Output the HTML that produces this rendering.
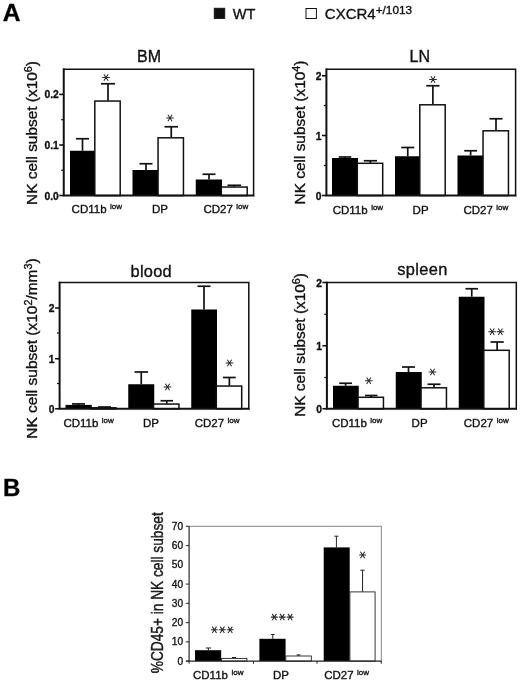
<!DOCTYPE html>
<html><head><meta charset="utf-8"><title>Figure</title>
<style>html,body{margin:0;padding:0;background:#fff;}svg{display:block;will-change:transform;}text{font-family:"Liberation Sans",sans-serif;stroke:#111;stroke-width:0.35px;}</style></head>
<body>
<svg width="520" height="683" viewBox="0 0 520 683" font-family='"Liberation Sans", sans-serif'>
<rect width="520" height="683" fill="#fff"/>
<text transform="translate(2.8,21.3) scale(1.05,1)" font-size="23.4" font-weight="bold" fill="#000">A</text>
<text x="3.00" y="496.30" font-size="24" text-anchor="start" font-weight="bold" fill="#000" >B</text>
<rect x="214.20" y="8.20" width="10.60" height="10.40" fill="#111" stroke="#111" stroke-width="0.8"/>
<text x="232.80" y="19.20" font-size="14.6" text-anchor="start" font-weight="normal" fill="#111" >WT</text>
<rect x="306.00" y="8.50" width="10.40" height="10.00" fill="#fff" stroke="#111" stroke-width="1.0"/>
<text x="324.80" y="19.20" font-size="15" text-anchor="start" font-weight="normal" fill="#111" >CXCR4<tspan dy="-5" font-size="11.8">+/1013</tspan></text>
<line x1="82.50" y1="138.75" x2="82.50" y2="150.75" stroke="#111" stroke-width="1.7"/>
<line x1="76.00" y1="138.75" x2="89.00" y2="138.75" stroke="#111" stroke-width="1.7"/>
<line x1="108.00" y1="83.75" x2="108.00" y2="100.75" stroke="#111" stroke-width="1.7"/>
<line x1="101.00" y1="83.75" x2="115.00" y2="83.75" stroke="#111" stroke-width="1.7"/>
<line x1="146.00" y1="163.75" x2="146.00" y2="170.00" stroke="#111" stroke-width="1.7"/>
<line x1="139.50" y1="163.75" x2="152.50" y2="163.75" stroke="#111" stroke-width="1.7"/>
<line x1="171.25" y1="126.75" x2="171.25" y2="137.50" stroke="#111" stroke-width="1.7"/>
<line x1="164.50" y1="126.75" x2="178.00" y2="126.75" stroke="#111" stroke-width="1.7"/>
<line x1="209.00" y1="174.25" x2="209.00" y2="179.50" stroke="#111" stroke-width="1.7"/>
<line x1="202.50" y1="174.25" x2="215.50" y2="174.25" stroke="#111" stroke-width="1.7"/>
<line x1="234.25" y1="185.30" x2="234.25" y2="186.75" stroke="#111" stroke-width="1.7"/>
<line x1="227.50" y1="185.30" x2="241.00" y2="185.30" stroke="#111" stroke-width="1.7"/>
<rect x="70.00" y="150.75" width="25.50" height="44.85" fill="#000"/>
<rect x="132.50" y="170.00" width="26.25" height="25.60" fill="#000"/>
<rect x="195.75" y="179.50" width="26.25" height="16.10" fill="#000"/>
<rect x="94.80" y="101.05" width="25.40" height="94.55" fill="#fff" stroke="#111" stroke-width="1.5"/>
<rect x="158.05" y="137.80" width="25.40" height="57.80" fill="#fff" stroke="#111" stroke-width="1.5"/>
<rect x="221.30" y="187.05" width="25.90" height="8.55" fill="#fff" stroke="#111" stroke-width="1.5"/>
<path d="M63.75 69.30H253.60V195.60" fill="none" stroke="#111" stroke-width="1.5" stroke-linecap="square"/>
<path d="M63.75 68.60V195.60H254.30" fill="none" stroke="#111" stroke-width="2.0"/>
<line x1="59.25" y1="94.40" x2="63.75" y2="94.40" stroke="#111" stroke-width="1.6"/>
<text x="58.75" y="98.40" font-size="10.3" text-anchor="end" font-weight="bold" fill="#111" >0.2</text>
<line x1="59.25" y1="145.00" x2="63.75" y2="145.00" stroke="#111" stroke-width="1.6"/>
<text x="58.75" y="149.00" font-size="10.3" text-anchor="end" font-weight="bold" fill="#111" >0.1</text>
<line x1="59.25" y1="195.50" x2="63.75" y2="195.50" stroke="#111" stroke-width="1.6"/>
<text x="58.75" y="199.50" font-size="10.3" text-anchor="end" font-weight="bold" fill="#111" >0.0</text>
<line x1="61.15" y1="119.70" x2="63.75" y2="119.70" stroke="#111" stroke-width="1.2"/>
<line x1="61.15" y1="170.20" x2="63.75" y2="170.20" stroke="#111" stroke-width="1.2"/>
<text x="149.00" y="61.50" font-size="16" text-anchor="middle" font-weight="normal" fill="#111" letter-spacing="0">BM</text>
<text transform="translate(36.90,133.00) rotate(-90) scale(1.077,1)" font-size="14.3" text-anchor="middle" fill="#111">NK cell subset (x10<tspan dy="-4.8" font-size="10">6</tspan><tspan dy="4.8">)</tspan></text>
<text x="71.60" y="212.70" font-size="11.5" text-anchor="start" font-weight="normal" fill="#111" >CD11b<tspan dx="3.5" dy="-3.5" font-size="8">low</tspan></text>
<text x="152.00" y="212.70" font-size="11.5" text-anchor="start" font-weight="normal" fill="#111" >DP</text>
<text x="203.40" y="212.70" font-size="11.5" text-anchor="start" font-weight="normal" fill="#111" >CD27<tspan dx="3.5" dy="-3.5" font-size="8">low</tspan></text>
<path d="M102.20 77.50H109.80M103.88 74.30L108.12 80.70M108.12 74.30L103.88 80.70" stroke="#2a2a2a" stroke-width="1.05" fill="none"/>
<path d="M166.20 118.00H173.80M167.88 114.80L172.12 121.20M172.12 114.80L167.88 121.20" stroke="#2a2a2a" stroke-width="1.05" fill="none"/>
<line x1="345.00" y1="157.00" x2="345.00" y2="158.00" stroke="#111" stroke-width="1.7"/>
<line x1="338.75" y1="157.00" x2="351.25" y2="157.00" stroke="#111" stroke-width="1.7"/>
<line x1="370.38" y1="160.75" x2="370.38" y2="163.00" stroke="#111" stroke-width="1.7"/>
<line x1="363.75" y1="160.75" x2="377.00" y2="160.75" stroke="#111" stroke-width="1.7"/>
<line x1="407.75" y1="147.50" x2="407.75" y2="156.25" stroke="#111" stroke-width="1.7"/>
<line x1="401.25" y1="147.50" x2="414.25" y2="147.50" stroke="#111" stroke-width="1.7"/>
<line x1="432.88" y1="85.75" x2="432.88" y2="104.50" stroke="#111" stroke-width="1.7"/>
<line x1="426.25" y1="85.75" x2="439.50" y2="85.75" stroke="#111" stroke-width="1.7"/>
<line x1="470.62" y1="150.75" x2="470.62" y2="155.50" stroke="#111" stroke-width="1.7"/>
<line x1="464.25" y1="150.75" x2="477.00" y2="150.75" stroke="#111" stroke-width="1.7"/>
<line x1="496.00" y1="118.75" x2="496.00" y2="130.50" stroke="#111" stroke-width="1.7"/>
<line x1="489.50" y1="118.75" x2="502.50" y2="118.75" stroke="#111" stroke-width="1.7"/>
<rect x="332.00" y="158.00" width="26.00" height="37.50" fill="#000"/>
<rect x="395.00" y="156.25" width="25.50" height="39.25" fill="#000"/>
<rect x="457.50" y="155.50" width="26.25" height="40.00" fill="#000"/>
<rect x="357.30" y="163.30" width="25.40" height="32.20" fill="#fff" stroke="#111" stroke-width="1.5"/>
<rect x="419.80" y="104.80" width="25.40" height="90.70" fill="#fff" stroke="#111" stroke-width="1.5"/>
<rect x="483.05" y="130.80" width="25.40" height="64.70" fill="#fff" stroke="#111" stroke-width="1.5"/>
<path d="M326.40 69.30H515.60V195.50" fill="none" stroke="#111" stroke-width="1.5" stroke-linecap="square"/>
<path d="M326.40 68.60V195.50H516.30" fill="none" stroke="#111" stroke-width="2.0"/>
<line x1="321.90" y1="75.75" x2="326.40" y2="75.75" stroke="#111" stroke-width="1.6"/>
<text x="321.40" y="79.75" font-size="10.3" text-anchor="end" font-weight="bold" fill="#111" >2</text>
<line x1="321.90" y1="135.50" x2="326.40" y2="135.50" stroke="#111" stroke-width="1.6"/>
<text x="321.40" y="139.50" font-size="10.3" text-anchor="end" font-weight="bold" fill="#111" >1</text>
<line x1="321.90" y1="195.50" x2="326.40" y2="195.50" stroke="#111" stroke-width="1.6"/>
<text x="321.40" y="199.50" font-size="10.3" text-anchor="end" font-weight="bold" fill="#111" >0</text>
<line x1="323.80" y1="105.50" x2="326.40" y2="105.50" stroke="#111" stroke-width="1.2"/>
<line x1="323.80" y1="165.50" x2="326.40" y2="165.50" stroke="#111" stroke-width="1.2"/>
<text x="419.75" y="61.50" font-size="16" text-anchor="middle" font-weight="normal" fill="#111" letter-spacing="0">LN</text>
<text transform="translate(305.00,132.50) rotate(-90) scale(1.077,1)" font-size="14.3" text-anchor="middle" fill="#111">NK cell subset (x10<tspan dy="-4.8" font-size="10">4</tspan><tspan dy="4.8">)</tspan></text>
<text x="332.70" y="213.50" font-size="11.5" text-anchor="start" font-weight="normal" fill="#111" >CD11b<tspan dx="3.5" dy="-3.5" font-size="8">low</tspan></text>
<text x="412.60" y="213.50" font-size="11.5" text-anchor="start" font-weight="normal" fill="#111" >DP</text>
<text x="463.40" y="213.50" font-size="11.5" text-anchor="start" font-weight="normal" fill="#111" >CD27<tspan dx="3.5" dy="-3.5" font-size="8">low</tspan></text>
<path d="M429.20 79.50H436.80M430.88 76.30L435.12 82.70M435.12 76.30L430.88 82.70" stroke="#2a2a2a" stroke-width="1.05" fill="none"/>
<line x1="78.50" y1="403.90" x2="78.50" y2="404.90" stroke="#111" stroke-width="1.7"/>
<line x1="72.00" y1="403.90" x2="85.00" y2="403.90" stroke="#111" stroke-width="1.7"/>
<line x1="104.50" y1="407.00" x2="104.50" y2="407.50" stroke="#111" stroke-width="1.7"/>
<line x1="98.00" y1="407.00" x2="111.00" y2="407.00" stroke="#111" stroke-width="1.7"/>
<line x1="141.25" y1="372.00" x2="141.25" y2="384.25" stroke="#111" stroke-width="1.7"/>
<line x1="134.50" y1="372.00" x2="148.00" y2="372.00" stroke="#111" stroke-width="1.7"/>
<line x1="166.75" y1="400.75" x2="166.75" y2="403.75" stroke="#111" stroke-width="1.7"/>
<line x1="160.50" y1="400.75" x2="173.00" y2="400.75" stroke="#111" stroke-width="1.7"/>
<line x1="204.00" y1="286.25" x2="204.00" y2="309.50" stroke="#111" stroke-width="1.7"/>
<line x1="197.50" y1="286.25" x2="210.50" y2="286.25" stroke="#111" stroke-width="1.7"/>
<line x1="229.38" y1="377.50" x2="229.38" y2="385.75" stroke="#111" stroke-width="1.7"/>
<line x1="223.00" y1="377.50" x2="235.75" y2="377.50" stroke="#111" stroke-width="1.7"/>
<rect x="65.50" y="404.90" width="26.25" height="3.85" fill="#000"/>
<rect x="128.25" y="384.25" width="26.00" height="24.50" fill="#000"/>
<rect x="191.25" y="309.50" width="25.75" height="99.25" fill="#000"/>
<rect x="91.05" y="407.80" width="24.90" height="0.95" fill="#fff" stroke="#111" stroke-width="1.5"/>
<rect x="153.55" y="404.05" width="25.40" height="4.70" fill="#fff" stroke="#111" stroke-width="1.5"/>
<rect x="216.30" y="386.05" width="25.40" height="22.70" fill="#fff" stroke="#111" stroke-width="1.5"/>
<path d="M59.60 282.50H248.80V408.75" fill="none" stroke="#111" stroke-width="1.5" stroke-linecap="square"/>
<path d="M59.60 281.80V408.75H249.50" fill="none" stroke="#111" stroke-width="2.0"/>
<line x1="55.10" y1="308.00" x2="59.60" y2="308.00" stroke="#111" stroke-width="1.6"/>
<text x="54.60" y="312.00" font-size="10.3" text-anchor="end" font-weight="bold" fill="#111" >2</text>
<line x1="55.10" y1="358.75" x2="59.60" y2="358.75" stroke="#111" stroke-width="1.6"/>
<text x="54.60" y="362.75" font-size="10.3" text-anchor="end" font-weight="bold" fill="#111" >1</text>
<line x1="55.10" y1="408.75" x2="59.60" y2="408.75" stroke="#111" stroke-width="1.6"/>
<text x="54.60" y="412.75" font-size="10.3" text-anchor="end" font-weight="bold" fill="#111" >0</text>
<line x1="57.00" y1="333.00" x2="59.60" y2="333.00" stroke="#111" stroke-width="1.2"/>
<line x1="57.00" y1="383.50" x2="59.60" y2="383.50" stroke="#111" stroke-width="1.2"/>
<text x="151.30" y="276.60" font-size="16.4" text-anchor="middle" font-weight="normal" fill="#111" letter-spacing="0.25">blood</text>
<text transform="translate(36.90,348.50) rotate(-90) scale(1.082,1)" font-size="14.3" text-anchor="middle" fill="#111">NK cell subset (x10<tspan dy="-4.8" font-size="10">2</tspan><tspan dy="4.8">/mm</tspan><tspan dy="-4.8" font-size="10">3</tspan><tspan dy="4.8">)</tspan></text>
<text x="63.40" y="426.70" font-size="11.5" text-anchor="start" font-weight="normal" fill="#111" >CD11b<tspan dx="3.5" dy="-3.5" font-size="8">low</tspan></text>
<text x="142.90" y="426.70" font-size="11.5" text-anchor="start" font-weight="normal" fill="#111" >DP</text>
<text x="194.70" y="426.70" font-size="11.5" text-anchor="start" font-weight="normal" fill="#111" >CD27<tspan dx="3.5" dy="-3.5" font-size="8">low</tspan></text>
<path d="M163.70 387.00H171.30M165.38 383.80L169.62 390.20M169.62 383.80L165.38 390.20" stroke="#2a2a2a" stroke-width="1.05" fill="none"/>
<path d="M225.70 363.00H233.30M227.38 359.80L231.62 366.20M231.62 359.80L227.38 366.20" stroke="#2a2a2a" stroke-width="1.05" fill="none"/>
<line x1="345.62" y1="383.25" x2="345.62" y2="385.75" stroke="#111" stroke-width="1.7"/>
<line x1="339.25" y1="383.25" x2="352.00" y2="383.25" stroke="#111" stroke-width="1.7"/>
<line x1="371.25" y1="395.50" x2="371.25" y2="397.00" stroke="#111" stroke-width="1.7"/>
<line x1="365.00" y1="395.50" x2="377.50" y2="395.50" stroke="#111" stroke-width="1.7"/>
<line x1="408.50" y1="367.00" x2="408.50" y2="372.00" stroke="#111" stroke-width="1.7"/>
<line x1="402.00" y1="367.00" x2="415.00" y2="367.00" stroke="#111" stroke-width="1.7"/>
<line x1="434.00" y1="384.25" x2="434.00" y2="387.50" stroke="#111" stroke-width="1.7"/>
<line x1="427.50" y1="384.25" x2="440.50" y2="384.25" stroke="#111" stroke-width="1.7"/>
<line x1="471.75" y1="288.75" x2="471.75" y2="296.75" stroke="#111" stroke-width="1.7"/>
<line x1="465.50" y1="288.75" x2="478.00" y2="288.75" stroke="#111" stroke-width="1.7"/>
<line x1="497.12" y1="342.00" x2="497.12" y2="350.00" stroke="#111" stroke-width="1.7"/>
<line x1="490.50" y1="342.00" x2="503.75" y2="342.00" stroke="#111" stroke-width="1.7"/>
<rect x="333.00" y="385.75" width="25.75" height="23.00" fill="#000"/>
<rect x="395.75" y="372.00" width="26.00" height="36.75" fill="#000"/>
<rect x="458.75" y="296.75" width="25.75" height="112.00" fill="#000"/>
<rect x="358.05" y="397.30" width="25.40" height="11.45" fill="#fff" stroke="#111" stroke-width="1.5"/>
<rect x="421.05" y="387.80" width="25.40" height="20.95" fill="#fff" stroke="#111" stroke-width="1.5"/>
<rect x="483.80" y="350.30" width="25.40" height="58.45" fill="#fff" stroke="#111" stroke-width="1.5"/>
<path d="M326.90 282.50H516.30V408.75" fill="none" stroke="#111" stroke-width="1.5" stroke-linecap="square"/>
<path d="M326.90 281.80V408.75H517.00" fill="none" stroke="#111" stroke-width="2.0"/>
<line x1="322.40" y1="282.50" x2="326.90" y2="282.50" stroke="#111" stroke-width="1.6"/>
<text x="321.90" y="286.50" font-size="10.3" text-anchor="end" font-weight="bold" fill="#111" >2</text>
<line x1="322.40" y1="345.75" x2="326.90" y2="345.75" stroke="#111" stroke-width="1.6"/>
<text x="321.90" y="349.75" font-size="10.3" text-anchor="end" font-weight="bold" fill="#111" >1</text>
<line x1="322.40" y1="408.75" x2="326.90" y2="408.75" stroke="#111" stroke-width="1.6"/>
<text x="321.90" y="412.75" font-size="10.3" text-anchor="end" font-weight="bold" fill="#111" >0</text>
<line x1="324.30" y1="314.25" x2="326.90" y2="314.25" stroke="#111" stroke-width="1.2"/>
<line x1="324.30" y1="377.50" x2="326.90" y2="377.50" stroke="#111" stroke-width="1.2"/>
<text x="422.50" y="275.20" font-size="16.4" text-anchor="middle" font-weight="normal" fill="#111" letter-spacing="0.35">spleen</text>
<text transform="translate(305.00,344.90) rotate(-90) scale(1.077,1)" font-size="14.3" text-anchor="middle" fill="#111">NK cell subset (x10<tspan dy="-4.8" font-size="10">6</tspan><tspan dy="4.8">)</tspan></text>
<text x="331.90" y="426.70" font-size="11.5" text-anchor="start" font-weight="normal" fill="#111" >CD11b<tspan dx="3.5" dy="-3.5" font-size="8">low</tspan></text>
<text x="411.60" y="426.70" font-size="11.5" text-anchor="start" font-weight="normal" fill="#111" >DP</text>
<text x="463.80" y="426.70" font-size="11.5" text-anchor="start" font-weight="normal" fill="#111" >CD27<tspan dx="3.5" dy="-3.5" font-size="8">low</tspan></text>
<path d="M364.95 380.75H372.55M366.63 377.55L370.87 383.95M370.87 377.55L366.63 383.95" stroke="#2a2a2a" stroke-width="1.05" fill="none"/>
<path d="M428.70 372.00H436.30M430.38 368.80L434.62 375.20M434.62 368.80L430.38 375.20" stroke="#2a2a2a" stroke-width="1.05" fill="none"/>
<path d="M488.35 331.75H495.95M490.03 328.55L494.27 334.95M494.27 328.55L490.03 334.95" stroke="#2a2a2a" stroke-width="1.05" fill="none"/>
<path d="M496.55 331.75H504.15M498.23 328.55L502.47 334.95M502.47 328.55L498.23 334.95" stroke="#2a2a2a" stroke-width="1.05" fill="none"/>
<line x1="189.10" y1="526.30" x2="381.30" y2="526.30" stroke="#777" stroke-width="0.9"/>
<line x1="381.30" y1="526.30" x2="381.30" y2="661.10" stroke="#777" stroke-width="0.9"/>
<line x1="208.40" y1="648.00" x2="208.40" y2="650.20" stroke="#222" stroke-width="1.0"/>
<line x1="205.80" y1="648.00" x2="211.00" y2="648.00" stroke="#222" stroke-width="1.0"/>
<line x1="234.00" y1="657.50" x2="234.00" y2="658.40" stroke="#222" stroke-width="1.0"/>
<line x1="232.00" y1="657.50" x2="236.00" y2="657.50" stroke="#222" stroke-width="1.0"/>
<line x1="272.80" y1="634.50" x2="272.80" y2="638.80" stroke="#222" stroke-width="1.0"/>
<line x1="270.90" y1="634.50" x2="274.70" y2="634.50" stroke="#222" stroke-width="1.0"/>
<line x1="298.50" y1="654.90" x2="298.50" y2="656.00" stroke="#222" stroke-width="1.0"/>
<line x1="296.50" y1="654.90" x2="300.50" y2="654.90" stroke="#222" stroke-width="1.0"/>
<line x1="336.40" y1="536.20" x2="336.40" y2="547.40" stroke="#222" stroke-width="1.0"/>
<line x1="334.40" y1="536.20" x2="338.40" y2="536.20" stroke="#222" stroke-width="1.0"/>
<line x1="362.55" y1="570.20" x2="362.55" y2="591.90" stroke="#222" stroke-width="1.0"/>
<line x1="360.40" y1="570.20" x2="364.70" y2="570.20" stroke="#222" stroke-width="1.0"/>
<rect x="195.00" y="650.20" width="26.20" height="10.90" fill="#000"/>
<rect x="221.40" y="658.40" width="25.50" height="2.70" fill="#fff" stroke="#222" stroke-width="0.9"/>
<rect x="259.40" y="638.80" width="26.20" height="22.30" fill="#000"/>
<rect x="285.80" y="656.00" width="25.50" height="5.10" fill="#fff" stroke="#222" stroke-width="0.9"/>
<rect x="323.70" y="547.40" width="26.00" height="113.70" fill="#000"/>
<rect x="349.90" y="591.90" width="25.20" height="69.20" fill="#fff" stroke="#222" stroke-width="0.9"/>
<line x1="189.10" y1="526.30" x2="189.10" y2="661.10" stroke="#333" stroke-width="1.25"/>
<line x1="185.90" y1="661.10" x2="381.30" y2="661.10" stroke="#222" stroke-width="1.3"/>
<line x1="185.90" y1="661.10" x2="189.10" y2="661.10" stroke="#333" stroke-width="1.1"/>
<text x="183.10" y="664.70" font-size="10.2" text-anchor="end" font-weight="normal" fill="#222" >0</text>
<line x1="185.90" y1="641.84" x2="189.10" y2="641.84" stroke="#333" stroke-width="1.1"/>
<text x="183.10" y="645.44" font-size="10.2" text-anchor="end" font-weight="normal" fill="#222" >10</text>
<line x1="185.90" y1="622.59" x2="189.10" y2="622.59" stroke="#333" stroke-width="1.1"/>
<text x="183.10" y="626.19" font-size="10.2" text-anchor="end" font-weight="normal" fill="#222" >20</text>
<line x1="185.90" y1="603.33" x2="189.10" y2="603.33" stroke="#333" stroke-width="1.1"/>
<text x="183.10" y="606.93" font-size="10.2" text-anchor="end" font-weight="normal" fill="#222" >30</text>
<line x1="185.90" y1="584.07" x2="189.10" y2="584.07" stroke="#333" stroke-width="1.1"/>
<text x="183.10" y="587.67" font-size="10.2" text-anchor="end" font-weight="normal" fill="#222" >40</text>
<text x="183.10" y="568.41" font-size="10.2" text-anchor="end" font-weight="normal" fill="#222" >50</text>
<line x1="185.90" y1="545.56" x2="189.10" y2="545.56" stroke="#333" stroke-width="1.1"/>
<text x="183.10" y="549.16" font-size="10.2" text-anchor="end" font-weight="normal" fill="#222" >60</text>
<line x1="185.90" y1="526.30" x2="189.10" y2="526.30" stroke="#333" stroke-width="1.1"/>
<text x="183.10" y="529.90" font-size="10.2" text-anchor="end" font-weight="normal" fill="#222" >70</text>
<line x1="189.10" y1="661.10" x2="189.10" y2="663.70" stroke="#222" stroke-width="1.0"/>
<line x1="253.50" y1="661.10" x2="253.50" y2="663.70" stroke="#222" stroke-width="1.0"/>
<line x1="317.00" y1="661.10" x2="317.00" y2="663.70" stroke="#222" stroke-width="1.0"/>
<line x1="381.30" y1="661.10" x2="381.30" y2="663.70" stroke="#222" stroke-width="1.0"/>
<text transform="translate(163.4,592.8) rotate(-90) scale(1,1.17)" font-size="13.7" text-anchor="middle" fill="#222">%CD45+ in NK cell subset</text>
<text x="193.00" y="679.20" font-size="11.5" text-anchor="start" font-weight="normal" fill="#111" >CD11b<tspan dx="3.5" dy="-4.2" font-size="8">low</tspan></text>
<text x="273.00" y="679.20" font-size="11.5" text-anchor="start" font-weight="normal" fill="#111" >DP</text>
<text x="324.20" y="679.20" font-size="11.5" text-anchor="start" font-weight="normal" fill="#111" >CD27<tspan dx="3.5" dy="-4.2" font-size="8">low</tspan></text>
<path d="M210.95 629.80H217.85M212.28 626.60L216.52 633.00M216.52 626.60L212.28 633.00" stroke="#2a2a2a" stroke-width="1.05" fill="none"/>
<path d="M218.85 629.80H225.75M220.18 626.60L224.42 633.00M224.42 626.60L220.18 633.00" stroke="#2a2a2a" stroke-width="1.05" fill="none"/>
<path d="M226.75 629.80H233.65M228.08 626.60L232.32 633.00M232.32 626.60L228.08 633.00" stroke="#2a2a2a" stroke-width="1.05" fill="none"/>
<path d="M270.85 617.10H277.75M272.18 613.90L276.42 620.30M276.42 613.90L272.18 620.30" stroke="#2a2a2a" stroke-width="1.05" fill="none"/>
<path d="M278.75 617.10H285.65M280.08 613.90L284.32 620.30M284.32 613.90L280.08 620.30" stroke="#2a2a2a" stroke-width="1.05" fill="none"/>
<path d="M286.65 617.10H293.55M287.98 613.90L292.22 620.30M292.22 613.90L287.98 620.30" stroke="#2a2a2a" stroke-width="1.05" fill="none"/>
<path d="M359.15 555.00H366.05M360.48 551.80L364.72 558.20M364.72 551.80L360.48 558.20" stroke="#2a2a2a" stroke-width="1.05" fill="none"/>
</svg>
</body></html>
